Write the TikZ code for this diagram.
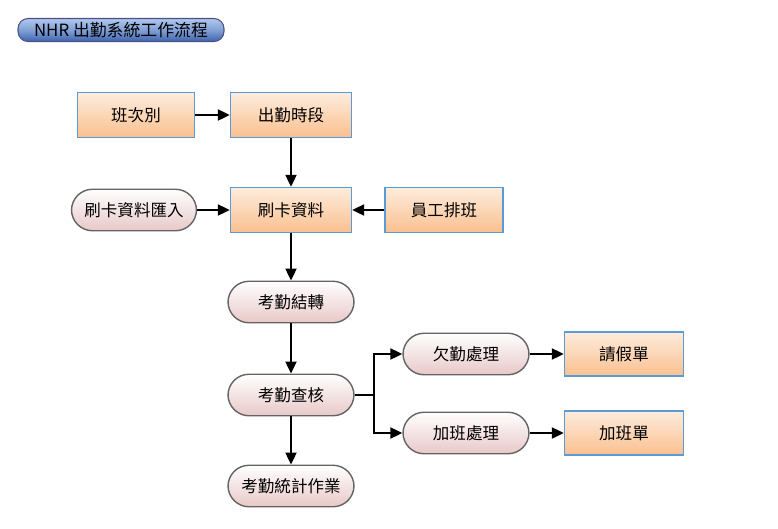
\documentclass[tikz,border=0pt]{standalone}
\usepackage{fontspec}
\newfontfamily\cjk{Noto Sans CJK TC}
\usetikzlibrary{arrows.meta}
\definecolor{boxblue}{RGB}{91,155,213}
\definecolor{peach}{RGB}{253,236,221}
\definecolor{orangeb}{RGB}{250,192,143}
\definecolor{pinkb}{RGB}{232,200,200}
\definecolor{termgray}{RGB}{100,100,100}
\definecolor{titletop}{RGB}{175,200,238}
\definecolor{titlebot}{RGB}{60,100,175}
\tikzset{
  box/.style={align=center, minimum height=0.9cm, font=\cjk\fontsize{9.4}{11}\selectfont, inner sep=1pt},
  kform/.style={box, draw=boxblue, line width=0.8pt, top color=peach, bottom color=orangeb, minimum width=2.38cm},
  kproc/.style={box, draw=termgray, line width=0.8pt, rounded corners=0.42cm, top color=white, bottom color=pinkb, minimum width=2.52cm, minimum height=0.83cm},
  ktitle/.style={draw=termgray!80!blue, line width=0.6pt, rounded corners=0.2cm, top color=titletop, bottom color=titlebot, middle color=titletop!60!titlebot, minimum width=4.12cm, minimum height=0.46cm, inner sep=0pt, font=\cjk\fontsize{9.6}{11}\selectfont},
  flow/.style={-{Triangle[length=2.4mm, width=2.2mm]}, line width=1.2pt},
}
\begin{document}
\begin{tikzpicture}[x=0.02cm, y=-0.02cm]
    \useasboundingbox (0,0) rectangle (778,528);
    \node[ktitle] (title) at (121,30) {NHR 出勤系統工作流程};
    \node[kform, minimum width=2.34cm] (shift) at (136,115) {班次別};
    \node[kform, minimum width=2.42cm] (period) at (291,115) {出勤時段};
    \node[kform, minimum width=2.42cm] (swipe) at (291,210) {刷卡資料};
    \node[kproc, minimum width=2.5cm] (import) at (134,210) {刷卡資料匯入};
    \node[kform, minimum width=2.36cm] (roster) at (444,210) {員工排班};
    \node[kproc] (transfer) at (291,302) {考勤結轉};
    \node[kproc] (audit) at (291,395) {考勤查核};
    \node[kproc] (stats) at (291,486) {考勤統計作業};
    \node[kproc] (absence) at (466,354) {欠勤處理};
    \node[kproc] (overtime) at (466,433) {加班處理};
    \node[kform, minimum height=0.88cm] (leave) at (624,354) {請假單};
    \node[kform, minimum height=0.88cm] (otform) at (624,433) {加班單};
    \draw[flow] (shift) -- (period);
    \draw[flow] (period) -- (swipe);
    \draw[flow] (import) -- (swipe);
    \draw[flow] (roster) -- (swipe);
    \draw[flow] (swipe) -- (transfer);
    \draw[flow] (transfer) -- (audit);
    \draw[flow] (audit) -- (stats);
    \draw[flow] (audit.east) -- ++(19,0) |- (absence.west);
    \draw[flow] (audit.east) -- ++(19,0) |- (overtime.west);
    \draw[flow] (absence) -- (leave);
    \draw[flow] (overtime) -- (otform);
  \end{tikzpicture}
\end{document}
